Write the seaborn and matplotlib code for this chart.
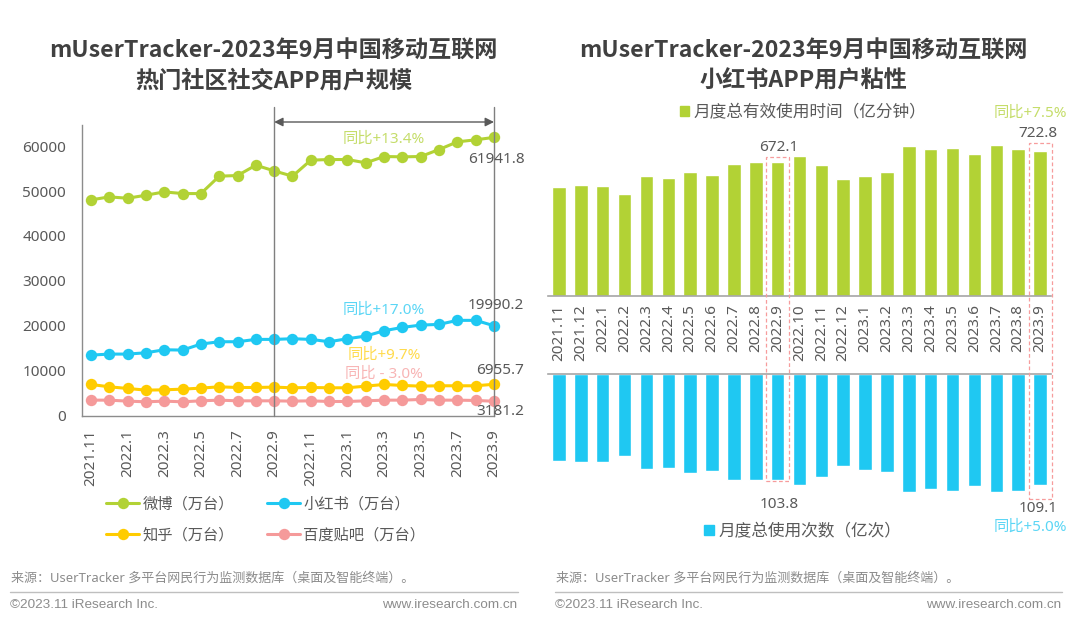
"""Recreate the iResearch mUserTracker chart pair: app users and Xiaohongshu stickiness."""

import matplotlib

matplotlib.use("Agg")

import matplotlib.pyplot as plt
import pandas as pd
import seaborn as sns
from matplotlib.lines import Line2D
from matplotlib.patches import FancyArrowPatch, Patch, Rectangle

months = [
    "2021.11", "2021.12", "2022.1", "2022.2", "2022.3", "2022.4", "2022.5", "2022.6",
    "2022.7", "2022.8", "2022.9", "2022.10", "2022.11", "2022.12", "2023.1", "2023.2",
    "2023.3", "2023.4", "2023.5", "2023.6", "2023.7", "2023.8", "2023.9",
]
weibo = [
    48020, 48690, 48390, 49060, 49800, 49430, 49430, 53300, 53450, 55750, 54480, 53300,
    56870, 57010, 57010, 56270, 57680, 57610, 57680, 59240, 60950, 61400, 61941.8,
]
xiaohongshu = [
    13450, 13680, 13680, 13970, 14640, 14570, 15910, 16430, 16430, 16950, 16950, 17100,
    16950, 16430, 17100, 17690, 18880, 19620, 20140, 20290, 21190, 21190, 19990.2,
]
zhihu = [
    6913, 6390, 6020, 5650, 5720, 5870, 6100, 6390, 6240, 6240, 6320, 6170,
    6240, 6170, 6170, 6540, 6913, 6690, 6540, 6620, 6620, 6620, 6955.7,
]
tieba = [
    3420, 3420, 3200, 3050, 3200, 3050, 3270, 3420, 3270, 3270, 3270, 3200,
    3270, 3120, 3120, 3270, 3420, 3420, 3570, 3420, 3420, 3345, 3181.2,
]
usage_time = [
    543, 555, 552, 512, 598, 592, 618, 603, 662, 668, 672.1, 702,
    655, 583, 598, 618, 748, 733, 742, 710, 753, 733, 722.8,
]
usage_count = [
    85.1, 86.8, 86.1, 80.5, 93.0, 92.0, 96.9, 95.3, 103.8, 103.8, 103.8, 109.0,
    101.5, 90.4, 94.0, 95.9, 115.6, 113.3, 114.9, 110.3, 116.2, 114.9, 109.1,
]
series_names = ["微博（万台）", "小红书（万台）", "知乎（万台）", "百度贴吧（万台）"]
y_ticks = [0, 10000, 20000, 30000, 40000, 50000, 60000]

GREEN = "#B2D235"
BLUE = "#1FC8F2"
YELLOW = "#FFCC00"
PINK = "#F59A9A"
TEXT = "#595959"
FOOT = "#8C8C8C"
W, H = 1080, 624

sns.set_theme(style="white")
plt.rcParams["font.family"] = ["Noto Sans", "Noto Sans CJK SC", "DejaVu Sans"]
plt.rcParams["axes.unicode_minus"] = False


def add_axes_px(fig, left, top, right, bottom):
    return fig.add_axes([left / W, 1 - bottom / H, (right - left) / W, (bottom - top) / H])


def fig_text(fig, x, y, s, **kwargs):
    fig.text(x / W, 1 - (y + 1.5) / H, s, va="center", **kwargs)


def fig_line(fig, x0, y0, x1, y1, **kwargs):
    fig.add_artist(Line2D([x0 / W, x1 / W], [1 - y0 / H, 1 - y1 / H], **kwargs))


def draw_users(fig):
    ax = add_axes_px(fig, 82, 125, 494, 415.5)
    df = pd.DataFrame({
        "month": months * 4,
        "users": weibo + xiaohongshu + zhihu + tieba,
        "app": [name for name in series_names for _ in months],
    })
    palette = dict(zip(series_names, [GREEN, BLUE, YELLOW, PINK]))
    sns.lineplot(
        data=df, x="month", y="users", hue="app", palette=palette, sort=False,
        marker="o", markersize=8.2, markeredgewidth=0, linewidth=2.2, ax=ax, clip_on=False,
    )
    ax.set_xlim(-0.49, 22)
    ax.set_ylim(0, 64700)
    ax.set_xlabel("")
    ax.set_ylabel("")
    ax.set_yticks(y_ticks)
    ax.set_xticks(range(0, len(months), 2))
    ax.set_xticklabels(months[::2], rotation=90)
    ax.tick_params(axis="y", length=0, labelsize=11, labelcolor=TEXT, pad=11.5)
    ax.tick_params(axis="x", length=0, labelsize=11, labelcolor=TEXT, pad=10)
    for side in ["top", "right"]:
        ax.spines[side].set_visible(False)
    for side in ["left", "bottom"]:
        ax.spines[side].set_color("#8C8C8C")
        ax.spines[side].set_linewidth(1.0)

    # bracket showing the year-on-year span
    sep_x = 82 + (10 + 0.49) * (494 - 82) / 22.49
    for x in [sep_x, 494]:
        fig_line(fig, x, 107, x, 415.5, color="#7F7F7F", lw=1.0)
    fig.add_artist(FancyArrowPatch(
        (sep_x / W, 1 - 122 / H), (494 / W, 1 - 122 / H), transform=fig.transFigure,
        arrowstyle="<|-|>", mutation_scale=13, color="#595959", lw=1.0, shrinkA=0, shrinkB=0,
    ))

    fig_text(fig, 384, 138, "同比+13.4%", color="#C5DD6A", fontsize=11, ha="center")
    fig_text(fig, 384, 309, "同比+17.0%", color="#5CD6F5", fontsize=11, ha="center")
    fig_text(fig, 384, 354, "同比+9.7%", color="#FFDB4D", fontsize=11, ha="center")
    fig_text(fig, 384, 373, "同比 - 3.0%", color="#F8B5B5", fontsize=11, ha="center")
    fig_text(fig, 496, 158, f"{weibo[-1]}", color=TEXT, fontsize=11, ha="center")
    fig_text(fig, 496, 304, f"{xiaohongshu[-1]}", color=TEXT, fontsize=11, ha="center")
    fig_text(fig, 500, 369, f"{zhihu[-1]}", color=TEXT, fontsize=11, ha="center")
    fig_text(fig, 500, 410, f"{tieba[-1]}", color=TEXT, fontsize=11, ha="center")

    handles, labels = ax.get_legend_handles_labels()
    order = [0, 2, 1, 3]
    ax.legend(
        [handles[i] for i in order], [labels[i] for i in order], ncol=2, frameon=False,
        loc="upper left", bbox_to_anchor=(92 / W, 1 - 483.5 / H), bbox_transform=fig.transFigure,
        fontsize=11, labelcolor=TEXT, handlelength=2.2, handletextpad=0.2,
        columnspacing=2.15, labelspacing=1.08,
    )


def draw_stickiness(fig):
    xlim = (-0.5, 22.5)
    left, right = 548, 1051
    top_ax = add_axes_px(fig, left, 130, right, 296)
    bottom_ax = add_axes_px(fig, left, 374, right, 510)

    sns.barplot(x=months, y=usage_time, color=GREEN, saturation=1, width=0.62, ax=top_ax)
    sns.barplot(x=months, y=usage_count, color=BLUE, saturation=1, width=0.62, ax=bottom_ax)
    top_ax.set_ylim(0, 166 / 0.2)
    bottom_ax.set_ylim(136 / 1.018, 0)

    for ax, side in [(top_ax, "bottom"), (bottom_ax, "top")]:
        sns.despine(ax=ax, left=True, right=True, top=side != "top", bottom=side != "bottom")
        ax.spines[side].set_color("#A6A6A6")
        ax.spines[side].set_linewidth(1.2)
        ax.set_xlim(*xlim)
        ax.set_yticks([])
        ax.set_ylabel("")
        ax.set_xlabel("")
    bottom_ax.set_xticks([])
    top_ax.set_xticks(range(len(months)))
    top_ax.set_xticklabels(months, rotation=90)
    top_ax.tick_params(axis="x", length=0, labelsize=11, labelcolor=TEXT, pad=6)

    # dashed frames around the two compared months
    step = (right - left) / 23
    for idx, y0, y1 in [(10, 157, 481), (22, 143, 499)]:
        cx = left + (idx + 0.5) * step
        fig.add_artist(Rectangle(
            ((cx - 11.5) / W, 1 - y1 / H), 23 / W, (y1 - y0) / H, transform=fig.transFigure,
            fill=False, edgecolor="#F79C9C", lw=0.9, ls=(0, (3, 2)), zorder=5,
        ))

    fig_text(fig, 779, 146, f"{usage_time[10]}", color=TEXT, fontsize=11, ha="center")
    fig_text(fig, 1038, 132, f"{usage_time[22]}", color=TEXT, fontsize=11, ha="center")
    fig_text(fig, 779, 503, f"{usage_count[10]}", color=TEXT, fontsize=11, ha="center")
    fig_text(fig, 1038, 507, f"{usage_count[22]}", color=TEXT, fontsize=11, ha="center")
    fig_text(fig, 1030, 112, "同比+7.5%", color="#C5DD6A", fontsize=11, ha="center")
    fig_text(fig, 1030, 526, "同比+5.0%", color="#5CD6F5", fontsize=11, ha="center")

    top_ax.legend(
        [Patch(color=GREEN)], ["月度总有效使用时间（亿分钟）"], frameon=False, loc="center",
        bbox_to_anchor=(803 / W, 1 - 113 / H), bbox_transform=fig.transFigure, fontsize=12,
        labelcolor=TEXT, handlelength=0.55, handleheight=0.55, handletextpad=0.3,
    )
    bottom_ax.legend(
        [Patch(color=BLUE)], ["月度总使用次数（亿次）"], frameon=False, loc="center",
        bbox_to_anchor=(803 / W, 1 - 532 / H), bbox_transform=fig.transFigure, fontsize=12,
        labelcolor=TEXT, handlelength=0.55, handleheight=0.55, handletextpad=0.3,
    )


def draw_frame_text(fig):
    # Noto Sans has no bold face here, so titles go straight to the CJK family
    title_font = ["Noto Sans CJK SC", "DejaVu Sans"]
    for x, line2 in [(273.5, "热门社区社交APP用户规模"), (803.5, "小红书APP用户粘性")]:
        fig_text(fig, x, 49.5, "mUserTracker-2023年9月中国移动互联网", color="#404040",
                 fontsize=16.7, fontweight="bold", ha="center", family=title_font)
        fig_text(fig, x, 79.5, line2, color="#404040", fontsize=16.7, fontweight="bold",
                 ha="center", family=title_font)
    source = "来源：UserTracker 多平台网民行为监测数据库（桌面及智能终端）。"
    for x0, x1 in [(10, 518), (555, 1062)]:
        fig_text(fig, x0 + 1, 577, source, color=FOOT, fontsize=9.4, ha="left")
        fig_line(fig, x0, 592, x1, 592, color="#BFBFBF", lw=1.0)
        fig_text(fig, x0, 603, "©2023.11 iResearch Inc.", color=FOOT, fontsize=9.7,
                 ha="left", family="Liberation Sans")
        fig_text(fig, x1 - 1, 603, "www.iresearch.com.cn", color=FOOT, fontsize=9.7,
                 ha="right", family="Liberation Sans")


def main():
    fig = plt.figure(figsize=(W / 100, H / 100), dpi=100, facecolor="white")
    draw_users(fig)
    draw_stickiness(fig)
    draw_frame_text(fig)
    fig.savefig("out.png", dpi=100)
    plt.close(fig)


if __name__ == "__main__":
    main()
